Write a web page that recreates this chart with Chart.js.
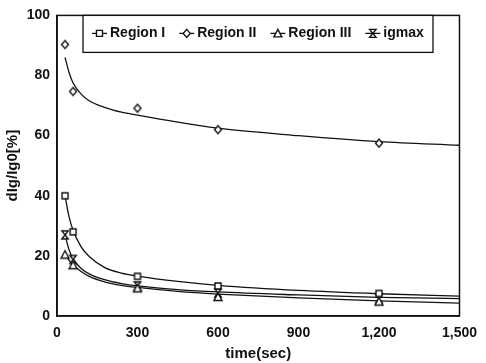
<!DOCTYPE html>
<html>
<head>
<meta charset="utf-8">
<script src="https://cdn.jsdelivr.net/npm/chart.js@4.4.0/dist/chart.umd.min.js"></script>
<style>
  html, body { margin: 0; padding: 0; background: #fff; }
  #wrap { width: 486px; height: 363px; }
</style>
</head>
<body>
<div id="wrap"><canvas id="myChart"></canvas></div>
<script>
// measured points
const times = [30, 60, 300, 600, 1200];
const regionI = [40, 28, 13.2, 10, 7.5];
const regionII = [90.3, 74.7, 69.1, 62, 57.5];
const regionIII = [20.4, 16.9, 9.2, 6.3, 4.8];
const igmax = [27, 18.8, 10, 7.7, 5.8];

// fitted curves
const fitTimes = [30, 45, 60, 90, 120, 180, 240, 300, 450, 600, 900, 1200, 1500];
const fitI = [40, 33, 28.5, 23, 19.8, 16, 14.3, 13.3, 11.5, 10.2, 8.5, 7.4, 6.6];
const fitII = [86, 81, 77.5, 73.8, 71.6, 69.3, 67.8, 66.8, 64.5, 62.5, 60, 58, 56.8];
const fitIII = [20.8, 18.5, 17, 14.8, 13.2, 11.3, 10.2, 9.5, 8.2, 7.3, 6, 5, 4.3];
const fitIgmax = [27, 22, 19, 15.8, 14, 12, 10.8, 10, 8.8, 8, 7, 6.2, 5.8];

const xTicks = [0, 300, 600, 900, 1200, 1500];
const yTicks = [0, 20, 40, 60, 80, 100];

const ink = '#111';
const family = '"Liberation Sans", Arial, sans-serif';

function drawMarker(ctx, kind, cx, cy) {
  ctx.save();
  ctx.beginPath();
  if (kind === 'square') {
    ctx.rect(cx - 3, cy - 3, 6, 6);
  } else if (kind === 'diamond') {
    ctx.moveTo(cx, cy - 4);
    ctx.lineTo(cx + 3.5, cy);
    ctx.lineTo(cx, cy + 4);
    ctx.lineTo(cx - 3.5, cy);
    ctx.closePath();
  } else if (kind === 'triangle') {
    ctx.moveTo(cx, cy - 4);
    ctx.lineTo(cx + 4, cy + 3.5);
    ctx.lineTo(cx - 4, cy + 3.5);
    ctx.closePath();
  } else {
    // hourglass
    ctx.moveTo(cx - 3.2, cy - 4);
    ctx.lineTo(cx + 3.2, cy - 4);
    ctx.lineTo(cx - 3.2, cy + 4);
    ctx.lineTo(cx + 3.2, cy + 4);
    ctx.closePath();
  }
  ctx.fillStyle = '#fff';
  ctx.fill();
  ctx.lineWidth = 1.4;
  ctx.strokeStyle = ink;
  ctx.stroke();
  ctx.restore();
}

function markerImage(kind) {
  const c = document.createElement('canvas');
  c.width = 12;
  c.height = 12;
  drawMarker(c.getContext('2d'), kind, 6, 6);
  return c;
}

const series = [
  { label: 'Region I', pts: regionI, fit: fitI, kind: 'square' },
  { label: 'Region II', pts: regionII, fit: fitII, kind: 'diamond' },
  { label: 'Region III', pts: regionIII, fit: fitIII, kind: 'triangle' },
  { label: 'igmax', pts: igmax, fit: fitIgmax, kind: 'hourglass' },
];

const datasets = [];
series.forEach(s => {
  datasets.push({
    label: s.label + ' fit',
    data: fitTimes.map((t, i) => ({ x: t, y: s.fit[i] })),
    borderColor: ink,
    borderWidth: 1.3,
    pointRadius: 0,
    cubicInterpolationMode: 'monotone',
    fill: false,
    order: 2,
  });
  datasets.push({
    label: s.label,
    data: times.map((t, i) => ({ x: t, y: s.pts[i] })),
    showLine: false,
    pointStyle: markerImage(s.kind),
    order: 1,
  });
});

// plot frame plus a boxed legend sitting on the top edge of the plot
const boxLegend = {
  id: 'boxLegend',
  afterDraw(chart) {
    const { ctx, chartArea } = chart;
    ctx.save();
    ctx.lineWidth = 1.5;
    ctx.strokeStyle = ink;
    ctx.strokeRect(chartArea.left, chartArea.top, chartArea.right - chartArea.left, chartArea.bottom - chartArea.top);

    const left = chartArea.left + 26;
    const top = chartArea.top;
    const w = 350, h = 37;
    ctx.fillStyle = '#fff';
    ctx.fillRect(left, top, w, h);
    ctx.lineWidth = 1.3;
    ctx.strokeRect(left, top, w, h);

    ctx.font = 'bold 14px ' + family;
    ctx.textBaseline = 'middle';
    const cy = top + 18;
    let x = left + 9;
    series.forEach(s => {
      ctx.beginPath();
      ctx.moveTo(x, cy);
      ctx.lineTo(x + 15, cy);
      ctx.lineWidth = 1.3;
      ctx.strokeStyle = ink;
      ctx.stroke();
      drawMarker(ctx, s.kind, x + 7.5, cy);
      ctx.fillStyle = ink;
      ctx.fillText(s.label, x + 18, cy);
      x += 18 + ctx.measureText(s.label).width + 14;
    });
    ctx.restore();
  }
};

const tickFont = { family: family, size: 14, weight: 'bold' };

const config = {
  type: 'line',
  data: { datasets: datasets },
  options: {
    responsive: true,
    maintainAspectRatio: false,
    animation: false,
    layout: { padding: { top: 14, right: 21, left: 0, bottom: 0 } },
    plugins: { legend: { display: false }, tooltip: { enabled: false } },
    scales: {
      x: {
        type: 'linear',
        min: 0,
        max: 1500,
        afterBuildTicks: s => { s.ticks = xTicks.map(v => ({ value: v })); },
        afterFit: s => { s.height = 47; },
        ticks: {
          callback: v => v.toLocaleString('en-US'),
          font: tickFont,
          color: ink,
          padding: 9,
          maxRotation: 0,
        },
        grid: { display: false, drawTicks: false },
        border: { display: true, color: ink, width: 1.5 },
        title: {
          display: true,
          text: 'time(sec)',
          font: { family: family, size: 15, weight: 'bold' },
          color: ink,
          padding: { top: 0, bottom: 0 },
        },
      },
      y: {
        min: 0,
        max: 100,
        afterBuildTicks: s => { s.ticks = yTicks.map(v => ({ value: v })); },
        afterFit: s => { s.width = 57; },
        ticks: { font: tickFont, color: ink, padding: 7 },
        grid: { display: false, drawTicks: false },
        border: { display: true, color: ink, width: 1.5 },
        title: {
          display: true,
          text: 'dIg/Ig0[%]',
          font: { family: family, size: 15, weight: 'bold' },
          color: ink,
          padding: { top: 4, bottom: 0 },
        },
      },
    },
  },
  plugins: [boxLegend],
};

const myChart = new Chart(document.getElementById('myChart'), config);
</script>
</body>
</html>
